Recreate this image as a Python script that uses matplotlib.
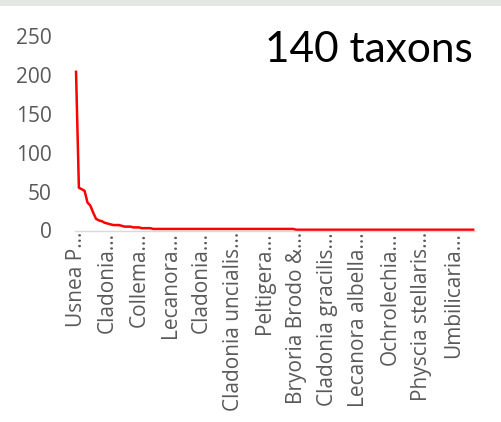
import matplotlib
matplotlib.use("Agg")
import matplotlib.pyplot as plt
from matplotlib.patches import Rectangle

# ---- data ----
n_taxa = 140
head_values = [204, 55, 53, 51, 36, 32, 23, 15, 13, 12, 10, 9, 8, 7, 7, 7, 6, 5, 5, 5,
               4, 4, 4, 3, 3, 3, 3]
mid_value, mid_count = 2, 50
tail_value = 1
values = head_values + [mid_value] * mid_count
values = values + [tail_value] * (n_taxa - len(values))

label_step = 11
tick_labels = ["Usnea P…", "Cladonia…", "Collema…", "Lecanora…", "Cladonia…",
               "Cladonia uncialis…", "Peltigera…", "Bryoria Brodo &…",
               "Cladonia gracilis…", "Lecanora albella…", "Ochrolechia…",
               "Physcia stellaris…", "Umbilicaria…"]
y_ticks = [0, 50, 100, 150, 200, 250]
title_text = "140 taxons"

# ---- figure ----
fig = plt.figure(figsize=(5.02, 4.22), dpi=100)
fig.patch.set_facecolor("white")
fig.patches.append(Rectangle((0, 1 - 5.7 / 422), 1, 5.7 / 422, transform=fig.transFigure,
                             facecolor="#e4e6e2", edgecolor="none", zorder=0))

ax = fig.add_axes([74.6 / 502, (422 - 230.5) / 422, 400 / 502, 194.5 / 422])
x = list(range(n_taxa))
ax.plot(x, values, color="#ff0000", linewidth=1.8, solid_joinstyle="round", clip_on=False)
ax.set_xlim(-0.5, n_taxa - 0.5)
ax.set_ylim(0, 250)

ax.set_yticks(y_ticks)
ax.set_yticklabels([str(v) for v in y_ticks], fontsize=15, color="#595959",
                   family=["Open Sans", "DejaVu Sans"])
ax.set_xticks(list(range(0, n_taxa, label_step))[:len(tick_labels)])
ax.set_xticklabels(tick_labels, rotation=90, fontsize=15, color="#595959",
                   family=["Open Sans", "DejaVu Sans"], va="top", ha="center")
ax.tick_params(axis="y", length=0, pad=16.3)
ax.tick_params(axis="x", length=0, pad=1)

for s in ["top", "right", "left"]:
    ax.spines[s].set_visible(False)
ax.spines["bottom"].set_color("#d9d9d9")
ax.spines["bottom"].set_linewidth(1.0)
ax.set_facecolor("none")

fig.text(265 / 502, 1 - 62.3 / 422, title_text, fontsize=30.5, color="black",
         family=["Lato", "DejaVu Sans"], ha="left", va="baseline")

fig.savefig("out.png", dpi=100, facecolor="white")
